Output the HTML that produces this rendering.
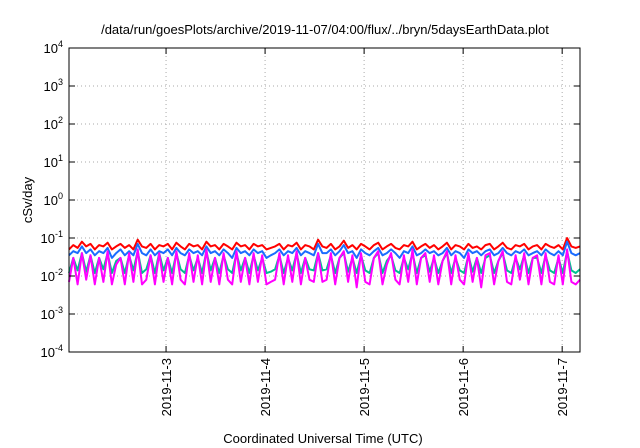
<!DOCTYPE html>
<html><head><meta charset="utf-8"><style>body{margin:0;background:#fff}svg{display:block;font-family:"Liberation Sans",sans-serif}</style></head>
<body>
<svg id="c" width="640" height="448" xmlns="http://www.w3.org/2000/svg">
<text x="325" y="34" font-size="13" text-anchor="middle">/data/run/goesPlots/archive/2019-11-07/04:00/flux/../bryn/5daysEarthData.plot</text>
<text x="323" y="443" font-size="13" text-anchor="middle">Coordinated Universal Time (UTC)</text>
<text transform="translate(32,200) rotate(-90)" font-size="13" text-anchor="middle">cSv/day</text>
<g id="grid"></g><g id="series"></g><g id="axes"></g>
</svg>
<script>
const xTickLabels=["2019-11-3","2019-11-4","2019-11-5","2019-11-6","2019-11-7"];
const xTickDays=[3,4,5,6,7];
const yTickExps=[-4,-3,-2,-1,0,1,2,3,4];
const tStart=2.02, tEnd=7.18;
const red=[0.05,0.065,0.055,0.08,0.06,0.07,0.05,0.065,0.06,0.075,0.05,0.06,0.07,0.055,0.065,0.05,0.09,0.06,0.055,0.07,0.05,0.065,0.06,0.07,0.05,0.075,0.06,0.05,0.07,0.06,0.065,0.05,0.08,0.06,0.065,0.05,0.07,0.06,0.05,0.075,0.06,0.065,0.05,0.07,0.06,0.065,0.05,0.055,0.06,0.07,0.05,0.065,0.06,0.075,0.05,0.065,0.06,0.05,0.09,0.06,
0.055,0.07,0.05,0.06,0.085,0.055,0.065,0.05,0.07,0.06,0.05,0.065,0.075,0.05,0.06,0.07,0.055,0.05,0.065,0.06,0.08,0.05,0.06,0.07,0.055,0.065,0.05,0.06,0.075,0.05,0.065,0.06,0.05,0.07,0.055,0.06,0.05,0.065,0.07,0.05,0.06,0.075,0.055,0.05,0.065,0.06,0.07,0.05,0.06,0.065,0.05,0.07,0.06,0.055,0.065,0.05,0.1,0.06,0.055,0.06];
const blue=[0.035,0.045,0.04,0.06,0.04,0.05,0.035,0.045,0.04,0.055,0.03,0.04,0.05,0.035,0.045,0.035,0.07,0.04,0.035,0.05,0.035,0.045,0.04,0.05,0.035,0.055,0.04,0.035,0.05,0.04,0.045,0.035,0.06,0.04,0.045,0.035,0.05,0.04,0.03,0.055,0.04,0.045,0.035,0.05,0.04,0.045,0.03,0.035,0.04,0.05,0.035,0.045,0.04,0.055,0.035,0.045,0.04,0.035,0.07,0.04,
0.04,0.05,0.035,0.045,0.065,0.04,0.045,0.03,0.05,0.04,0.035,0.045,0.055,0.035,0.04,0.05,0.04,0.03,0.045,0.04,0.06,0.035,0.04,0.05,0.04,0.045,0.035,0.04,0.055,0.035,0.045,0.04,0.03,0.05,0.04,0.045,0.035,0.045,0.05,0.035,0.04,0.055,0.04,0.035,0.045,0.04,0.05,0.035,0.04,0.045,0.035,0.05,0.04,0.035,0.045,0.035,0.08,0.04,0.035,0.04];
const green=[0.012,0.03,0.014,0.04,0.013,0.035,0.012,0.03,0.015,0.04,0.012,0.025,0.03,0.012,0.035,0.014,0.045,0.012,0.015,0.035,0.012,0.04,0.014,0.03,0.012,0.04,0.015,0.012,0.035,0.014,0.03,0.012,0.045,0.014,0.03,0.012,0.035,0.015,0.012,0.04,0.014,0.03,0.012,0.035,0.014,0.03,0.012,0.013,0.015,0.035,0.012,0.03,0.014,0.04,0.012,0.03,0.015,0.014,0.04,0.014,
0.015,0.035,0.012,0.03,0.04,0.013,0.03,0.012,0.035,0.014,0.012,0.03,0.04,0.012,0.025,0.035,0.014,0.012,0.03,0.015,0.04,0.012,0.03,0.035,0.013,0.03,0.012,0.025,0.04,0.012,0.03,0.014,0.012,0.035,0.013,0.03,0.012,0.03,0.035,0.012,0.025,0.04,0.014,0.012,0.03,0.015,0.035,0.012,0.03,0.03,0.012,0.035,0.014,0.012,0.03,0.012,0.045,0.014,0.012,0.015];
const magenta=[0.007,0.03,0.006,0.04,0.008,0.035,0.006,0.03,0.007,0.045,0.006,0.02,0.03,0.006,0.04,0.007,0.05,0.006,0.008,0.035,0.006,0.04,0.007,0.03,0.006,0.045,0.008,0.006,0.04,0.007,0.035,0.006,0.05,0.007,0.03,0.006,0.04,0.008,0.006,0.045,0.007,0.03,0.006,0.04,0.007,0.035,0.006,0.007,0.008,0.04,0.006,0.035,0.007,0.045,0.006,0.03,0.008,0.007,0.04,0.007,
0.008,0.04,0.006,0.03,0.045,0.007,0.035,0.005,0.04,0.007,0.006,0.03,0.045,0.006,0.02,0.04,0.008,0.006,0.035,0.007,0.05,0.006,0.03,0.04,0.007,0.035,0.006,0.025,0.045,0.006,0.035,0.008,0.006,0.04,0.007,0.03,0.005,0.035,0.04,0.006,0.025,0.045,0.007,0.006,0.035,0.008,0.04,0.006,0.03,0.035,0.006,0.04,0.007,0.006,0.035,0.006,0.05,0.007,0.006,0.008];
const L=69,R=580,T=48,B=352;
const xs=t=>L+(t-tStart)/(tEnd-tStart)*(R-L);
const ys=v=>B-(Math.log10(v)+4)/8*(B-T);
const NS="http://www.w3.org/2000/svg";
function mk(tag,attrs,parent){const e=document.createElementNS(NS,tag);for(const k in attrs)e.setAttribute(k,attrs[k]);parent.appendChild(e);return e;}
const grid=document.getElementById('grid'),axes=document.getElementById('axes'),ser=document.getElementById('series');
yTickExps.forEach(p=>{const y=B-(p+4)/8*(B-T);
 if(p>-4&&p<4){const g=mk('line',{x1:L,x2:R,y1:y,y2:y,stroke:'#aaa','stroke-dasharray':'1,3'},grid);}
 mk('line',{x1:L,x2:L+6,y1:y,y2:y,stroke:'#000'},axes);mk('line',{x1:R,x2:R-6,y1:y,y2:y,stroke:'#000'},axes);
 const t=mk('text',{x:L-6,y:y+5,'font-size':13,'text-anchor':'end'},axes);
 
 
 t.innerHTML='10<tspan dy="-6" font-size="9">'+p+'</tspan>';});
xTickDays.forEach((d,i)=>{const x=xs(d);
 const g=mk('line',{x1:x,x2:x,y1:T,y2:B,stroke:'#aaa','stroke-dasharray':'1,3'},grid);
 
 
 mk('line',{x1:x,x2:x,y1:B,y2:B-6,stroke:'#000'},axes);mk('line',{x1:x,x2:x,y1:T,y2:T+6,stroke:'#000'},axes);
 const t=mk('text',{transform:`translate(${x+5},358) rotate(-90)`,'font-size':13,'text-anchor':'end'},axes);
 
 
 t.textContent=xTickLabels[i];});
const fr=mk('rect',{x:L,y:T,width:R-L,height:B-T,fill:'none',stroke:'#000','stroke-width':1},axes);


[[red,'#ff0000','series-red'],[green,'#00c090','series-green'],[blue,'#1a6cff','series-blue'],[magenta,'#ff00ff','series-magenta']].forEach(([arr,col,name])=>{
 const n=arr.length;const pts=arr.map((v,i)=>xs(tStart+i*(tEnd-tStart)/(n-1)).toFixed(1)+','+ys(v).toFixed(1)).join(' ');
 const pl=mk('polyline',{points:pts,fill:'none',stroke:col,'stroke-width':2,'stroke-linejoin':'round'},ser);
 
 });
</script>
</body></html>
